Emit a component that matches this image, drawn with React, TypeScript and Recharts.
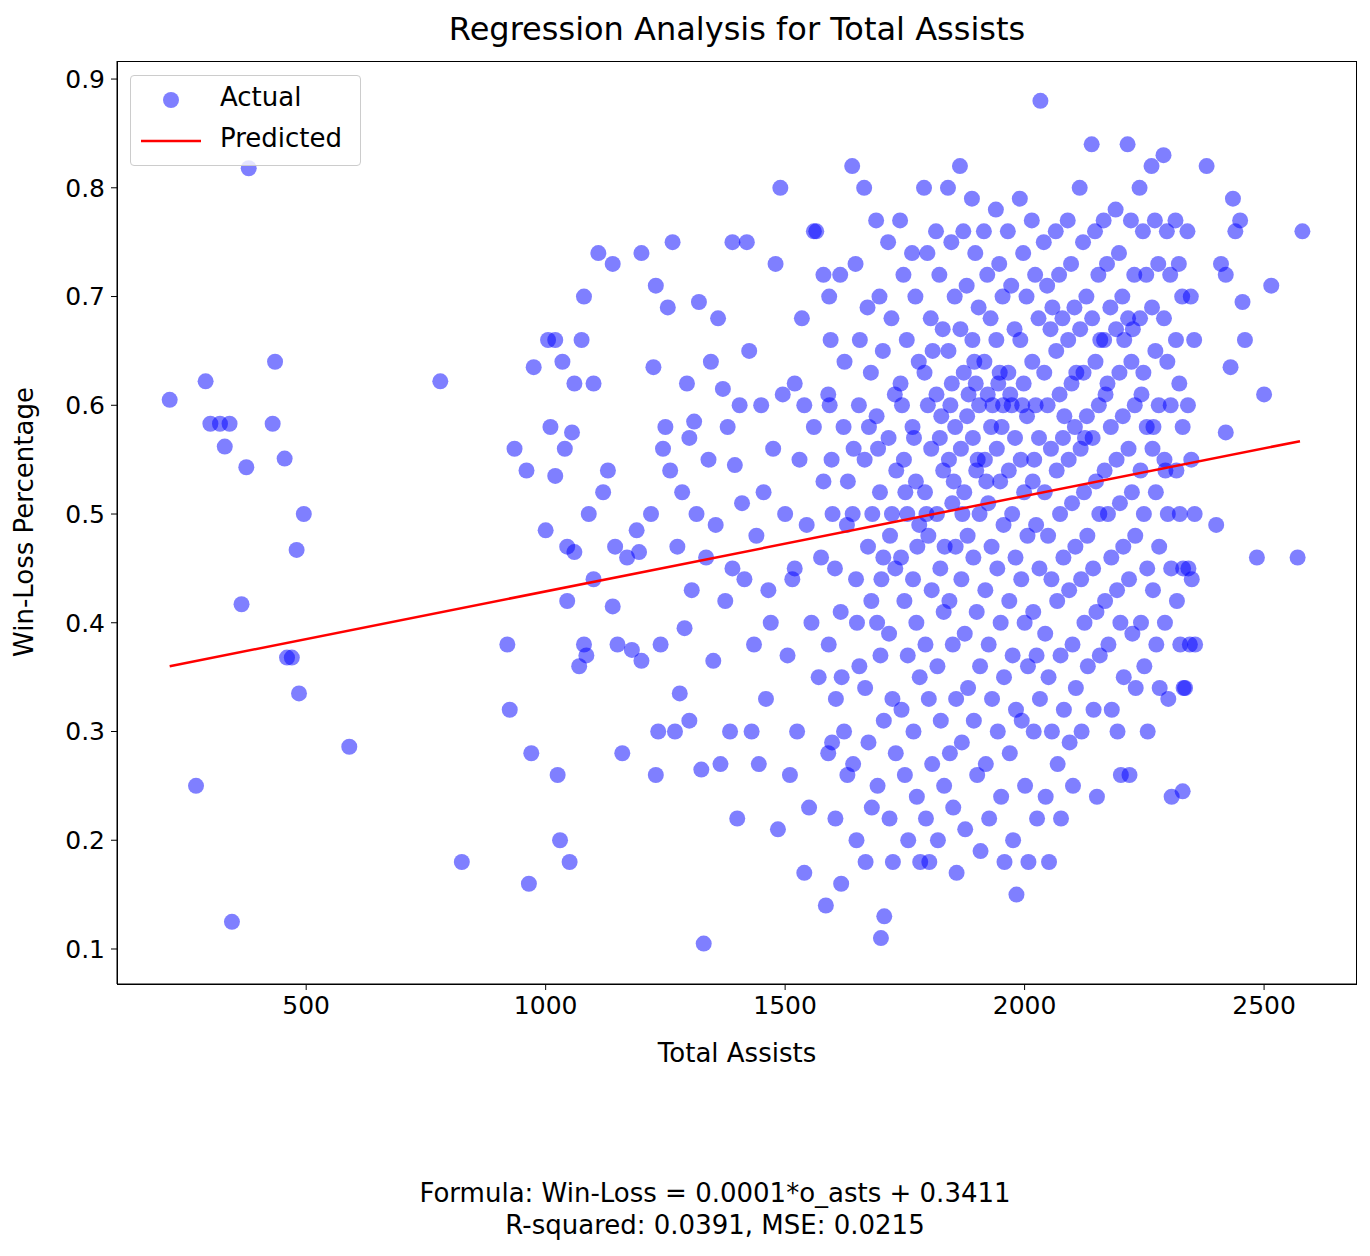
import React from "react";
import { ScatterChart, Scatter, XAxis, YAxis, ZAxis } from "recharts";

const xTicks = [500, 1000, 1500, 2000, 2500];
const yTicks = [0.1, 0.2, 0.3, 0.4, 0.5, 0.6, 0.7, 0.8, 0.9];

// scattered points outside the dense cluster
const sparsePoints: [number, number][] = [
  [215, 0.605], [290, 0.622], [300, 0.583], [320, 0.583], [340, 0.583], [330, 0.562], [375, 0.543], [380, 0.818],
  [270, 0.25], [345, 0.125], [365, 0.417], [435, 0.64], [430, 0.583], [455, 0.551], [460, 0.368], [470, 0.368],
  [480, 0.467], [485, 0.335], [495, 0.5], [590, 0.286], [780, 0.622], [825, 0.18], [920, 0.38], [925, 0.32],
  [935, 0.56], [960, 0.54], [970, 0.28], [965, 0.16], [975, 0.635], [1000, 0.485], [1005, 0.66], [1010, 0.58],
  [1020, 0.66], [1020, 0.535], [1025, 0.26], [1030, 0.2], [1035, 0.64], [1040, 0.56], [1045, 0.42], [1045, 0.47],
  [1050, 0.18], [1055, 0.575], [1060, 0.62], [1060, 0.465], [1070, 0.36], [1075, 0.66], [1080, 0.38], [1080, 0.7],
  [1085, 0.37], [1090, 0.5], [1100, 0.62], [1100, 0.44], [1110, 0.74], [1120, 0.52], [1130, 0.54], [1140, 0.73],
  [1140, 0.415], [1145, 0.47], [1150, 0.38], [1160, 0.28], [1170, 0.46], [1180, 0.375], [1190, 0.485], [1195, 0.465],
  [1200, 0.74], [1200, 0.365], [1220, 0.5], [1225, 0.635], [1230, 0.71], [1230, 0.26], [1235, 0.3], [1240, 0.38],
  [1245, 0.56], [1250, 0.58], [1255, 0.69], [1260, 0.54], [1265, 0.75], [1270, 0.3], [1275, 0.47], [1280, 0.335],
  [1285, 0.52], [1290, 0.395], [1295, 0.62], [1300, 0.57], [1300, 0.31], [1305, 0.43], [1310, 0.585], [1315, 0.5],
  [1320, 0.695], [1325, 0.265], [1330, 0.105], [1335, 0.46], [1340, 0.55], [1345, 0.64], [1350, 0.365], [1355, 0.49],
  [1360, 0.68], [1365, 0.27], [1370, 0.615], [1375, 0.42], [1380, 0.58], [1385, 0.3], [1390, 0.45], [1390, 0.75],
  [1395, 0.545], [1400, 0.22], [1405, 0.6], [1410, 0.51], [1415, 0.44], [1420, 0.75], [1425, 0.65], [1430, 0.3],
  [1435, 0.38], [1440, 0.48], [1445, 0.27], [1450, 0.6], [1455, 0.52], [1460, 0.33], [1465, 0.43], [1470, 0.4],
  [1475, 0.56], [1480, 0.73], [1485, 0.21], [1490, 0.8], [1495, 0.61], [1500, 0.5], [1505, 0.37], [1510, 0.26],
  [1515, 0.44], [1520, 0.62], [1525, 0.3], [1530, 0.55], [1535, 0.68], [1540, 0.17], [1545, 0.49], [1550, 0.23],
  [1555, 0.4], [1560, 0.58], [1565, 0.76], [1570, 0.35], [1575, 0.46], [1580, 0.53], [1585, 0.14], [1590, 0.28],
  [1595, 0.66], [1580, 0.72], [1560, 0.76], [1540, 0.6], [1520, 0.45],
  [2380, 0.82], [2400, 0.49], [2410, 0.73], [2420, 0.72], [2430, 0.635], [2435, 0.79], [2440, 0.76], [2450, 0.77],
  [2455, 0.695], [2460, 0.66], [2420, 0.575], [2485, 0.46], [2500, 0.61], [2515, 0.71], [2570, 0.46], [2580, 0.76],
  [2330, 0.245], [2335, 0.34], [2345, 0.38],
];

// dense cluster, grouped by total assists
const clusterColumns: [number, number[]][] = [
  [1600, [0.61, 0.55, 0.45, 0.38, 0.29, 0.22, 0.7, 0.5, 0.33, 0.6]],
  [1625, [0.72, 0.58, 0.49, 0.41, 0.3, 0.26, 0.16, 0.64, 0.53, 0.35]],
  [1650, [0.82, 0.73, 0.6, 0.5, 0.44, 0.36, 0.27, 0.2, 0.66, 0.56, 0.4]],
  [1675, [0.8, 0.69, 0.63, 0.55, 0.47, 0.42, 0.34, 0.29, 0.23, 0.18, 0.58, 0.5]],
  [1700, [0.77, 0.7, 0.65, 0.59, 0.52, 0.46, 0.4, 0.37, 0.31, 0.25, 0.11, 0.13, 0.56, 0.44]],
  [1725, [0.75, 0.68, 0.61, 0.57, 0.5, 0.45, 0.39, 0.33, 0.28, 0.22, 0.18, 0.54, 0.48]],
  [1750, [0.77, 0.72, 0.66, 0.62, 0.55, 0.5, 0.46, 0.42, 0.37, 0.32, 0.26, 0.2, 0.6, 0.52]],
  [1775, [0.74, 0.7, 0.64, 0.58, 0.53, 0.49, 0.44, 0.4, 0.35, 0.3, 0.24, 0.18, 0.57, 0.47]],
  [1800, [0.8, 0.74, 0.68, 0.63, 0.6, 0.56, 0.52, 0.48, 0.43, 0.38, 0.33, 0.27, 0.22, 0.18, 0.65, 0.5]],
  [1825, [0.76, 0.72, 0.67, 0.61, 0.57, 0.54, 0.5, 0.45, 0.41, 0.36, 0.31, 0.25, 0.2, 0.59, 0.47]],
  [1850, [0.8, 0.75, 0.7, 0.65, 0.62, 0.58, 0.55, 0.51, 0.47, 0.42, 0.38, 0.33, 0.28, 0.23, 0.17, 0.6, 0.53]],
  [1875, [0.82, 0.76, 0.71, 0.67, 0.63, 0.59, 0.56, 0.52, 0.48, 0.44, 0.39, 0.34, 0.29, 0.21, 0.61, 0.5]],
  [1900, [0.79, 0.74, 0.69, 0.66, 0.62, 0.6, 0.57, 0.54, 0.5, 0.46, 0.41, 0.36, 0.31, 0.26, 0.19, 0.64, 0.55]],
  [1925, [0.76, 0.72, 0.68, 0.64, 0.61, 0.58, 0.55, 0.51, 0.47, 0.43, 0.38, 0.33, 0.27, 0.22, 0.6, 0.53]],
  [1950, [0.78, 0.73, 0.7, 0.66, 0.63, 0.6, 0.56, 0.53, 0.49, 0.45, 0.4, 0.35, 0.3, 0.24, 0.18, 0.62, 0.58]],
  [1975, [0.76, 0.71, 0.67, 0.63, 0.6, 0.57, 0.54, 0.5, 0.46, 0.42, 0.37, 0.32, 0.28, 0.2, 0.15, 0.61]],
  [2000, [0.79, 0.74, 0.7, 0.66, 0.62, 0.59, 0.55, 0.52, 0.48, 0.44, 0.4, 0.36, 0.31, 0.25, 0.18, 0.6]],
  [2025, [0.77, 0.72, 0.68, 0.64, 0.6, 0.57, 0.53, 0.49, 0.45, 0.41, 0.37, 0.33, 0.3, 0.22, 0.88, 0.55]],
  [2050, [0.75, 0.71, 0.67, 0.63, 0.6, 0.56, 0.52, 0.48, 0.44, 0.39, 0.35, 0.3, 0.24, 0.18, 0.69]],
  [2075, [0.76, 0.72, 0.68, 0.65, 0.61, 0.57, 0.54, 0.5, 0.46, 0.42, 0.37, 0.32, 0.27, 0.22, 0.59]],
  [2100, [0.77, 0.73, 0.69, 0.66, 0.62, 0.58, 0.55, 0.51, 0.47, 0.43, 0.38, 0.34, 0.29, 0.25, 0.63]],
  [2125, [0.8, 0.75, 0.7, 0.67, 0.63, 0.59, 0.56, 0.52, 0.48, 0.44, 0.4, 0.36, 0.3, 0.57]],
  [2150, [0.84, 0.76, 0.72, 0.68, 0.64, 0.6, 0.57, 0.53, 0.5, 0.45, 0.41, 0.37, 0.32, 0.24, 0.66]],
  [2175, [0.77, 0.73, 0.69, 0.66, 0.62, 0.58, 0.54, 0.5, 0.46, 0.42, 0.38, 0.32, 0.61]],
  [2200, [0.78, 0.74, 0.7, 0.67, 0.63, 0.59, 0.55, 0.51, 0.47, 0.43, 0.4, 0.35, 0.3, 0.26, 0.66]],
  [2225, [0.84, 0.77, 0.72, 0.68, 0.64, 0.6, 0.56, 0.52, 0.48, 0.44, 0.39, 0.34, 0.26, 0.67]],
  [2250, [0.8, 0.76, 0.72, 0.68, 0.63, 0.58, 0.54, 0.5, 0.45, 0.4, 0.36, 0.3, 0.61]],
  [2275, [0.82, 0.77, 0.73, 0.69, 0.65, 0.6, 0.56, 0.52, 0.47, 0.43, 0.38, 0.34, 0.58]],
  [2300, [0.83, 0.76, 0.72, 0.68, 0.64, 0.6, 0.55, 0.5, 0.45, 0.4, 0.33, 0.24, 0.54]],
  [2325, [0.77, 0.73, 0.7, 0.66, 0.62, 0.58, 0.54, 0.5, 0.45, 0.42, 0.38, 0.34]],
  [2350, [0.76, 0.7, 0.66, 0.6, 0.55, 0.5, 0.45, 0.44, 0.38]],
];

const predictedLine = [
  { x: 215, y: 0.36 },
  { x: 2575, y: 0.567 },
];

const actual = [
  ...sparsePoints.map(([x, y]) => ({ x, y })),
  ...clusterColumns.flatMap(([x, ys]) => ys.map((y, i) => ({ x: x + ((i * 7) % 20) - 10, y }))),
];

const font = "'DejaVu Sans', sans-serif";

const Dot = (p: any) => <circle cx={p.cx} cy={p.cy} r={8} fill="#0000ff" fillOpacity={0.5} />;

export default function App() {
  return (
    <div style={{ position: "absolute", left: 0, top: 0, width: 1370, height: 1256, background: "#fff", fontFamily: font, color: "#000" }}>
      <ScatterChart width={1370} height={1256} margin={{ top: 61, right: 13, bottom: 242, left: 17 }}>
        <XAxis
          type="number" dataKey="x" domain={[105, 2694]} ticks={xTicks} allowDataOverflow height={30}
          stroke="#000" tick={{ fill: "#000", fontSize: 25, fontFamily: font }} tickSize={6} tickMargin={6}
        />
        <YAxis
          type="number" dataKey="y" domain={[0.0678, 0.9166]} ticks={yTicks} allowDataOverflow width={100}
          stroke="#000" tick={{ fill: "#000", fontSize: 25, fontFamily: font }} tickSize={6} tickMargin={6}
          tickFormatter={(v) => v.toFixed(1)}
        />
        <ZAxis range={[200, 200]} />
        <Scatter data={actual} shape={Dot} isAnimationActive={false} />
        <Scatter data={predictedLine} line={{ stroke: "#ff0000", strokeWidth: 2.5 }} shape={() => null} isAnimationActive={false} />
      </ScatterChart>
      <div style={{ position: "absolute", left: 117, top: 61, width: 1240, height: 924, border: "1px solid #000", boxSizing: "border-box", pointerEvents: "none" }} />
      <div style={{ position: "absolute", top: 10, left: 117, width: 1240, textAlign: "center", fontSize: 32 }}>
        Regression Analysis for Total Assists
      </div>
      <div style={{ position: "absolute", top: 1038, left: 117, width: 1240, textAlign: "center", fontSize: 26 }}>Total Assists</div>
      <div style={{ position: "absolute", left: 24, top: 522, transform: "translate(-50%,-50%) rotate(-90deg)", fontSize: 26, whiteSpace: "nowrap" }}>
        Win-Loss Percentage
      </div>
      <div style={{ position: "absolute", top: 1177, left: 0, width: 1430, textAlign: "center", fontSize: 26, lineHeight: "32px" }}>
        Formula: Win-Loss = 0.0001*o_asts + 0.3411<br />R-squared: 0.0391, MSE: 0.0215
      </div>
      <div style={{ position: "absolute", left: 130, top: 75, width: 231, height: 91, border: "1px solid #ccc", borderRadius: 4, background: "rgba(255,255,255,0.8)", boxSizing: "border-box", fontSize: 26 }}>
        <svg style={{ position: "absolute", left: 0, top: 0 }} width={90} height={90}>
          <circle cx={40} cy={24} r={8} fill="#0000ff" fillOpacity={0.5} />
          <line x1={10} x2={70} y1={65} y2={65} stroke="#ff0000" strokeWidth={2.5} />
        </svg>
        <div style={{ position: "absolute", left: 89, top: 6 }}>Actual</div>
        <div style={{ position: "absolute", left: 89, top: 47 }}>Predicted</div>
      </div>
    </div>
  );
}
